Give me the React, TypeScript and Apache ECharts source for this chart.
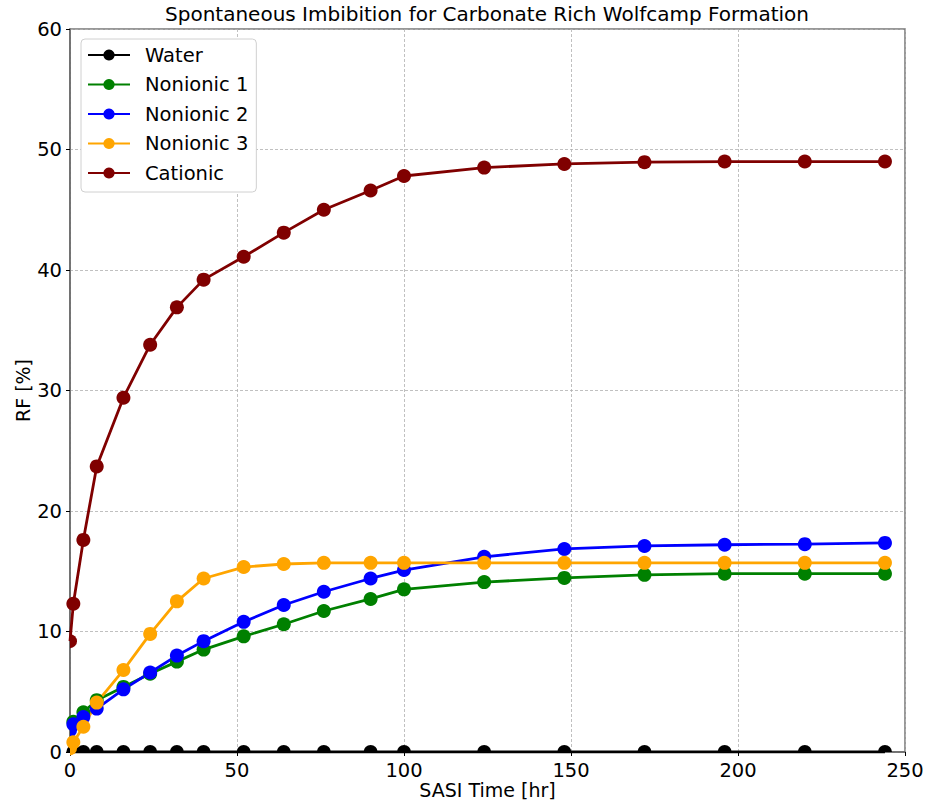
import React, { useEffect, useRef } from "react";
import * as echarts from "echarts";

const times = [0, 1, 4, 8, 16, 24, 32, 40, 52, 64, 76, 90, 100, 124, 148, 172, 196, 220, 244];
const water = [0, 0, 0, 0, 0, 0, 0, 0, 0, 0, 0, 0, 0, 0, 0, 0, 0, 0, 0];
const nonionic1 = [2.3, 2.5, 3.3, 4.3, 5.4, 6.5, 7.5, 8.5, 9.6, 10.6, 11.7, 12.7, 13.5, 14.1, 14.45, 14.7, 14.8, 14.8, 14.8];
const nonionic2 = [1.8, 2.3, 2.9, 3.6, 5.2, 6.6, 8.0, 9.2, 10.8, 12.2, 13.3, 14.4, 15.1, 16.2, 16.85, 17.1, 17.2, 17.25, 17.35];
const nonionic3 = [0.3, 0.8, 2.1, 4.1, 6.8, 9.8, 12.5, 14.4, 15.35, 15.6, 15.7, 15.7, 15.7, 15.7, 15.7, 15.7, 15.7, 15.7, 15.7];
const cationic = [9.2, 12.3, 17.6, 23.7, 29.4, 33.8, 36.9, 39.2, 41.1, 43.1, 45.0, 46.6, 47.8, 48.5, 48.8, 48.95, 49.0, 49.0, 49.0];

const seriesDefs = [
  { name: "Water", data: water, color: "#000000" },
  { name: "Nonionic 1", data: nonionic1, color: "#008000" },
  { name: "Nonionic 2", data: nonionic2, color: "#0000ff" },
  { name: "Nonionic 3", data: nonionic3, color: "#ffa500" },
  { name: "Cationic", data: cationic, color: "#800000" },
];

const FONT = "DejaVu Sans";
const SZ = 14;
const RIGHT_HALF = "path://M0,0 A10,10 0 0 1 0,20 Z";
const TOP_HALF = "path://M0,10 A10,10 0 0 1 20,10 Z";
const QUARTER = "path://M0,10 L0,0 A10,10 0 0 1 10,10 Z";

function point(t: number, v: number) {
  const atLeft = t === 0;
  const atBottom = v === 0;
  if (atLeft && atBottom) {
    return { value: [t, v], symbol: QUARTER, symbolSize: [SZ / 2, SZ / 2], symbolOffset: ["50%", "-50%"] };
  }
  if (atLeft) {
    return { value: [t, v], symbol: RIGHT_HALF, symbolSize: [SZ / 2, SZ], symbolOffset: ["50%", 0] };
  }
  if (atBottom) {
    return { value: [t, v], symbol: TOP_HALF, symbolSize: [SZ, SZ / 2], symbolOffset: [0, "-50%"] };
  }
  return { value: [t, v] };
}

export default function App() {
  const ref = useRef<HTMLDivElement>(null);
  useEffect(() => {
    if (!ref.current) return;
    const chart = echarts.init(ref.current, undefined, { renderer: "svg" });
    chart.setOption({
      animation: false,
      backgroundColor: "#ffffff",
      textStyle: { fontFamily: FONT },
      title: {
        text: "Spontaneous Imbibition for Carbonate Rich Wolfcamp Formation",
        left: 487,
        textAlign: "center",
        top: 4,
        padding: 0,
        textStyle: { fontFamily: FONT, fontSize: 20, fontWeight: "normal", color: "#000" },
      },
      grid: {
        left: 70,
        right: 22,
        top: 29,
        bottom: 51,
        outerBoundsMode: "none",
        containLabel: false,
        show: true,
        borderColor: "#777",
        borderWidth: 1.5,
        backgroundColor: "transparent",
      },
      legend: {
        orient: "vertical",
        left: 81,
        top: 39,
        padding: [6, 8, 9, 6],
        itemGap: 9.5,
        itemWidth: 42,
        itemHeight: 14,
        backgroundColor: "#ffffff",
        borderColor: "#d0d0d0",
        borderWidth: 1,
        borderRadius: 4,
        textStyle: { fontFamily: FONT, fontSize: 19.5, color: "#000", padding: [0, 0, 0, 10] },
        data: seriesDefs.map((s) => s.name),
      },
      xAxis: {
        type: "value",
        min: 0,
        max: 250,
        interval: 50,
        name: "SASI Time [hr]",
        nameLocation: "middle",
        nameGap: 28,
        nameMoveOverlap: false,
        nameTextStyle: { fontFamily: FONT, fontSize: 19, color: "#000", lineHeight: 20 },
        axisLine: { show: true, lineStyle: { color: "#666", width: 1.5 } },
        axisTick: { show: true, length: 4, lineStyle: { color: "#000" } },
        axisLabel: { fontFamily: FONT, fontSize: 19.5, color: "#000", margin: 8 },
        splitLine: { show: true, lineStyle: { color: "#b0b0b0", type: [3, 2], width: 0.8 } },
      },
      yAxis: {
        type: "value",
        min: 0,
        max: 60,
        interval: 10,
        name: "RF [%]",
        nameLocation: "middle",
        nameGap: 38,
        nameMoveOverlap: false,
        nameRotate: 90,
        nameTextStyle: { fontFamily: FONT, fontSize: 19, color: "#000" },
        axisLine: { show: true, lineStyle: { color: "#666", width: 1.5 } },
        axisTick: { show: true, length: 4, lineStyle: { color: "#000" } },
        axisLabel: { fontFamily: FONT, fontSize: 19.5, color: "#000", margin: 8 },
        splitLine: { show: true, lineStyle: { color: "#b0b0b0", type: [3, 2], width: 0.8 } },
      },
      series: seriesDefs.map((s) => ({
        name: s.name,
        type: "line",
        data: times.map((t, i) => point(t, s.data[i])),
        symbol: "circle",
        symbolSize: SZ,
        showSymbol: true,
        clip: true,
        color: s.color,
        itemStyle: { color: s.color },
        lineStyle: { color: s.color, width: 2.8 },
        emphasis: { disabled: true },
      })),
    });
    return () => chart.dispose();
  }, []);
  return (
    <div
      ref={ref}
      style={{ position: "absolute", left: 0, top: 0, width: 927, height: 803 }}
    />
  );
}
